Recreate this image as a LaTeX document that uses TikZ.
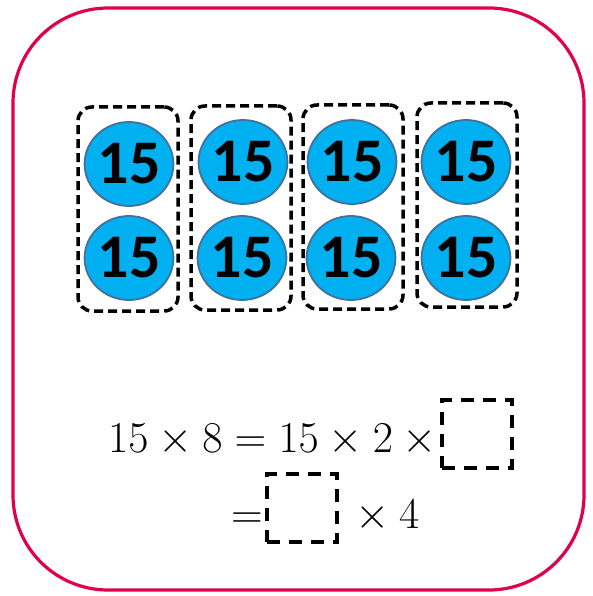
\RequirePackage{fix-cm}
\documentclass[tikz,border=0pt]{standalone}
\usepackage{fontspec}
\usepackage{tikz}
\usepackage{xcolor}
\usetikzlibrary{shapes.geometric}
\newfontfamily\ballfont{Carlito}
\definecolor{framered}{RGB}{225,0,75}
\definecolor{ballblue}{RGB}{0,176,240}
\definecolor{balledge}{RGB}{65,113,156}

\begin{document}
\begin{tikzpicture}[x=1pt, y=-1pt,
		frame/.style={draw=framered, line width=3.2pt, rounded corners=95pt},
		group/.style={draw, line width=3.5pt, dash pattern=on 9pt off 5pt, rounded corners=14pt,
			minimum width=100pt, minimum height=204pt},
		ball/.style={ellipse, draw=balledge, line width=1.8pt, fill=ballblue, inner sep=0pt,
			minimum width=88pt, minimum height=84pt, font=\ballfont\bfseries\fontsize{62}{62}\selectfont},
		blank/.style={draw, line width=3.8pt, dash pattern=on 13pt off 9pt,
			minimum width=70pt, minimum height=68pt},
		sum/.style={inner sep=0pt, font=\fontsize{44}{52}\selectfont}
	]
		\useasboundingbox (0,0) rectangle (592,596);
		\draw[frame] (13,8) rectangle (584,590);
		% dashed groups of two
		\node[group] (g1) at (128,209) {};
		\node[group] (g2) at (241,208) {};
		\node[group] (g3) at (353,207) {};
		\node[group] (g4) at (467,205) {};
		% balls
		\node[ball] (a1) at (129,164) {15};
		\node[ball] (b1) at (129,258) {15};
		\node[ball] (a2) at (243,162) {15};
		\node[ball] (b2) at (242,258) {15};
		\node[ball] (a3) at (352,162) {15};
		\node[ball] (b3) at (351,258) {15};
		\node[ball] (a4) at (466,162) {15};
		\node[ball] (b4) at (466,258) {15};
		% equation
		\node[sum, anchor=base west] (lhs) at (108,452) {$15\times8=15\times2\times{}$};
		\node[blank] (box1) at (477,434) {};
		\node[sum, anchor=base west] (eq) at (231,528) {$=$};
		\node[blank] (box2) at (302,508) {};
		\node[sum, anchor=base west] (times) at (355,528) {$\times\mskip\medmuskip 4$};
	\end{tikzpicture}
\end{document}
